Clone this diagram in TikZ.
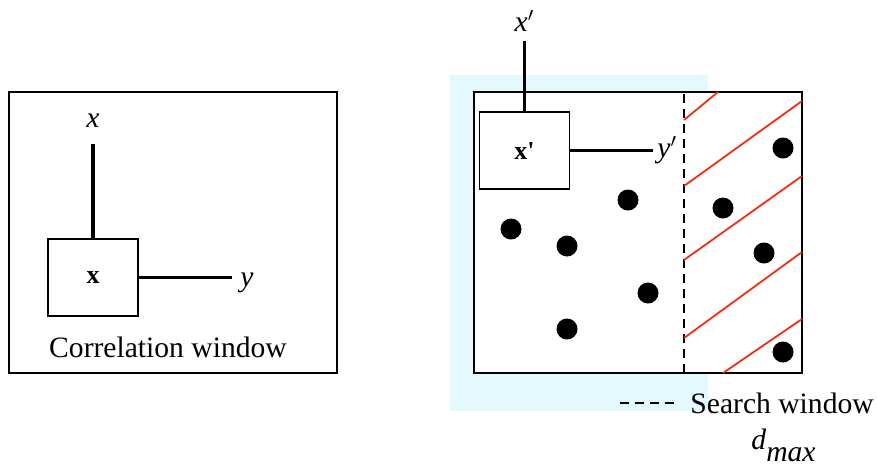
\documentclass[tikz,border=0pt]{standalone}
\usepackage{fontspec}
\setmainfont{Liberation Serif}
\usetikzlibrary{positioning}
\definecolor{glow}{RGB}{228,249,253}
\definecolor{hatch}{RGB}{245,45,20}
\begin{document}
\begin{tikzpicture}[
  x=0.5pt, y=-0.5pt,
  win/.style={draw, line width=0.9pt, minimum width=164pt, minimum height=140.5pt, inner sep=0pt},
  frame/.style={draw, line width=0.9pt, minimum width=45pt, minimum height=38.5pt, font=\fontsize{13}{15}\selectfont\bfseries},
  lab/.style={inner sep=0pt, font=\fontsize{14.8}{17}\selectfont},
  axis/.style={line width=1.7pt},
  swdash/.style={line width=0.9pt, dash pattern=on 4.5pt off 3pt},
  hatchline/.style={hatch, line width=0.9pt}
]
\useasboundingbox (0,0) rectangle (877,467);
\fill[glow] (450,75) rectangle (708,411);
\node[win] (corrwin) at (173,232.5) {};
\node[frame] (xbox) at (93,277.5) {x};
\coordinate (xtip) at (93,144);
\coordinate (ytip) at (232,277.5);
\draw[axis] (xbox.north) -- (xtip);
\draw[axis] (xbox.east) -- (ytip);
\node[lab, above=8pt of xtip] (xlab) {\textit{x}};
\node[lab, anchor=base west, xshift=4pt, yshift=-4.5pt] (ylab) at (ytip) {\textit{y}};
\node[lab, anchor=base] (corrlab) at (168,357) {Correlation window};
\node[win, fill=white] (imgwin) at (638,232.5) {};
\node[win, swdash, minimum width=105pt] (searchwin) at (579,232.5) {};
\foreach \xa/\ya/\xb/\yb in {684/120/718/92, 684/186/802/101, 684/260/802/176, 684/338/802/252, 723/373/802/319}
  \draw[hatchline] (\xa,\ya) -- (\xb,\yb);
\foreach \p in {(511,229),(567,246),(628,200),(648,293),(567,329),(723,208),(783,148),(764,253),(783,352)}
  \fill \p circle[radius=5.25pt];
\node[frame] (xpbox) at (524.5,150.5) {x\textquotesingle};
\coordinate (xptip) at (524.5,41);
\coordinate (yptip) at (653,150.5);
\draw[axis] (xpbox.north) -- (xptip);
\draw[axis] (xpbox.east) -- (yptip);
\node[lab, above=4.5pt of xptip] (xplab) {\textit{x}$'$};
\node[lab, anchor=base west, xshift=2pt, yshift=-3.5pt] (yplab) at (yptip) {\textit{y}$'$};
\coordinate (legA) at (620,403);
\coordinate (legB) at (680,403);
\draw[swdash] (legA) -- (legB);
\node[lab, right=5pt of legB] (swlab) {Search window};
\node[lab, anchor=base west] (dmax) at (751,449) {\textit{d}\raisebox{-6pt}{\textit{max}}};
\end{tikzpicture}
\end{document}
